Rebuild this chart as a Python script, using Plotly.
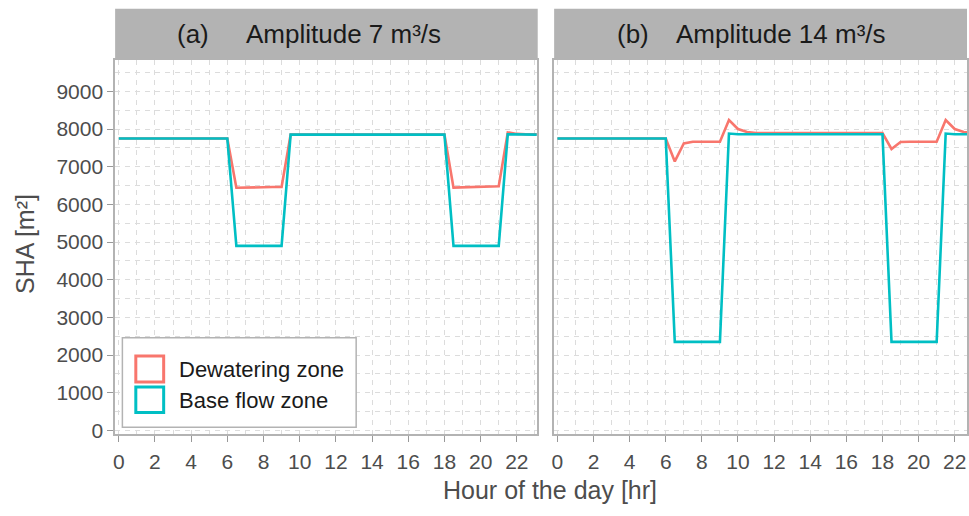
import plotly.graph_objects as go

hours = [0, 0.5, 1, 1.5, 2, 2.5, 3, 3.5, 4, 4.5, 5, 5.5, 6, 6.5, 7, 7.5, 8, 8.5, 9, 9.5,
         10, 10.5, 11, 11.5, 12, 12.5, 13, 13.5, 14, 14.5, 15, 15.5, 16, 16.5, 17, 17.5,
         18, 18.5, 19, 19.5, 20, 20.5, 21, 21.5, 22, 22.5, 23, 23.5]

# Panel (a): amplitude 7 m3/s
a_dewatering = [7750, 7750, 7750, 7750, 7750, 7750, 7750, 7750, 7750, 7750, 7750, 7750, 7750,
                6440, 6450, 6455, 6460, 6460, 6465,
                7855, 7855, 7855, 7855, 7855, 7855, 7855, 7855, 7855, 7855, 7855, 7855, 7855,
                7855, 7855, 7855, 7855, 7855,
                6445, 6450, 6455, 6460, 6470, 6480,
                7910, 7870, 7860, 7860, 7860]
a_base = [7750, 7750, 7750, 7750, 7750, 7750, 7750, 7750, 7750, 7750, 7750, 7750, 7750,
          4900, 4900, 4900, 4900, 4900, 4900,
          7850, 7850, 7850, 7850, 7850, 7850, 7850, 7850, 7850, 7850, 7850, 7850, 7850,
          7850, 7850, 7850, 7850, 7850,
          4900, 4900, 4900, 4900, 4900, 4900,
          7860, 7850, 7850, 7850, 7850]

# Panel (b): amplitude 14 m3/s
b_dewatering = [7750, 7750, 7750, 7750, 7750, 7750, 7750, 7750, 7750, 7750, 7750, 7750, 7750,
                7140, 7615, 7660, 7665, 7665, 7665,
                8240, 8000, 7920,
                7890, 7890, 7890, 7890, 7890, 7890, 7890, 7890, 7890, 7890, 7890, 7890, 7890,
                7890, 7890,
                7470, 7655, 7660, 7660, 7660, 7665,
                8240, 8000, 7920, 7890, 7890]
b_base = [7750, 7750, 7750, 7750, 7750, 7750, 7750, 7750, 7750, 7750, 7750, 7750, 7750,
          2350, 2350, 2350, 2350, 2350, 2350,
          7880, 7860, 7860, 7860, 7860, 7860, 7860, 7860, 7860, 7860, 7860, 7860, 7860,
          7860, 7860, 7860, 7860, 7860,
          2350, 2350, 2350, 2350, 2350, 2350,
          7880, 7860, 7860, 7860, 7860]

series_names = ["Dewatering zone", "Base flow zone"]
panel_labels = ["(a)", "(b)"]
panel_titles = ["Amplitude 7 m³/s", "Amplitude 14 m³/s"]
x_ticks = [0, 2, 4, 6, 8, 10, 12, 14, 16, 18, 20, 22]
y_ticks = [0, 1000, 2000, 3000, 4000, 5000, 6000, 7000, 8000, 9000]

RED = "#F8766D"
CYAN = "#00BFC4"
W, H = 969, 516
FONT = "Liberation Sans, Arial, sans-serif"

def px(x):
    return x / W

def py(y):
    return 1 - y / H

fig = go.Figure()
fig.add_trace(go.Scatter(x=hours, y=a_dewatering, mode="lines", name=series_names[0],
                         line=dict(color=RED, width=2.6), xaxis="x", yaxis="y", showlegend=False))
fig.add_trace(go.Scatter(x=hours, y=a_base, mode="lines", name=series_names[1],
                         line=dict(color=CYAN, width=2.6), xaxis="x", yaxis="y", showlegend=False))
fig.add_trace(go.Scatter(x=hours, y=b_dewatering, mode="lines", name=series_names[0],
                         line=dict(color=RED, width=2.6), xaxis="x2", yaxis="y2", showlegend=False))
fig.add_trace(go.Scatter(x=hours, y=b_base, mode="lines", name=series_names[1],
                         line=dict(color=CYAN, width=2.6), xaxis="x2", yaxis="y2", showlegend=False))

grid_col = "#dcdcdc"
border_col = "#b3b3b3"
DASH = "5px,5px"
tick_font = dict(family=FONT, size=21, color="#4d4d4d")

xcommon = dict(tickvals=x_ticks, showgrid=True, gridcolor=grid_col, griddash=DASH, gridwidth=1,
               minor=dict(dtick=1, tick0=0, showgrid=True, gridcolor=grid_col, griddash=DASH, gridwidth=1),
               showline=True, mirror=True, linecolor=border_col, linewidth=1.5,
               ticks="outside", ticklen=6, tickcolor="#999999", tickwidth=1.2,
               tickfont=tick_font, zeroline=False, ticklabelstandoff=2)
ycommon = dict(tickvals=y_ticks, range=[-90, 9830], showgrid=True, gridcolor=grid_col, griddash=DASH, gridwidth=1,
               minor=dict(dtick=500, tick0=0, showgrid=True, gridcolor=grid_col, griddash=DASH, gridwidth=1),
               showline=True, mirror=True, linecolor=border_col, linewidth=1.5,
               tickfont=tick_font, zeroline=False, domain=[py(440.7), py(61)])

fig.update_layout(
    width=W, height=H, autosize=False,
    margin=dict(l=0, r=0, t=0, b=0),
    paper_bgcolor="white", plot_bgcolor="white",
    font=dict(family=FONT, color="#1a1a1a"),
    showlegend=False,
    xaxis=dict(xcommon, domain=[px(112.7), px(536.5)], range=[-0.2, 23.1], anchor="y"),
    yaxis=dict(ycommon, anchor="x", ticks="outside", ticklen=6, tickcolor="#999999", tickwidth=1.2),
    xaxis2=dict(xcommon, domain=[px(554), 1.0], range=[-0.18, 22.68], anchor="y2"),
    yaxis2=dict(ycommon, anchor="x2", showticklabels=False, ticks=""),
)

shapes = []
annotations = []
# facet strips
strips = [(112.7, 537.5), (554, 969)]
label_cx = [191, 633]
title_cx = [342, 782]
for i, (l, r) in enumerate(strips):
    shapes.append(dict(type="rect", xref="paper", yref="paper", x0=px(l), x1=px(r), y0=py(60), y1=py(9),
                       fillcolor="#b3b3b3", line=dict(width=0), layer="above"))
    annotations.append(dict(xref="paper", yref="paper", x=px(label_cx[i]), y=py(35), text=panel_labels[i],
                            showarrow=False, xanchor="center", yanchor="middle",
                            font=dict(family=FONT, size=26, color="#1a1a1a")))
    annotations.append(dict(xref="paper", yref="paper", x=px(title_cx[i]), y=py(35), text=panel_titles[i],
                            showarrow=False, xanchor="center", yanchor="middle",
                            font=dict(family=FONT, size=26, color="#1a1a1a")))

# axis titles
annotations.append(dict(xref="paper", yref="paper", x=px(550), y=py(498), text="Hour of the day [hr]",
                        showarrow=False, xanchor="center", yanchor="middle",
                        font=dict(family=FONT, size=25, color="#4d4d4d")))
annotations.append(dict(xref="paper", yref="paper", x=px(22), y=py(248), text="SHA [m²]", textangle=-90,
                        showarrow=False, xanchor="center", yanchor="middle",
                        font=dict(family=FONT, size=25, color="#4d4d4d")))

# legend box
shapes.append(dict(type="rect", xref="paper", yref="paper", x0=px(120), x1=px(355), y0=py(434), y1=py(343),
                   fillcolor="white", line=dict(color=border_col, width=1.5), layer="above"))
key_cols = [RED, CYAN]
key_y = [(360, 389.5), (391.5, 420.5)]
text_y = [375, 407]
for i in range(2):
    shapes.append(dict(type="rect", xref="paper", yref="paper", x0=px(133.5), x1=px(161.5),
                       y0=py(key_y[i][1] - 1.5), y1=py(key_y[i][0] + 1.5),
                       fillcolor="white", line=dict(color=key_cols[i], width=3), layer="above"))
    annotations.append(dict(xref="paper", yref="paper", x=px(175), y=py(text_y[i]), text=series_names[i],
                            showarrow=False, xanchor="left", yanchor="middle",
                            font=dict(family=FONT, size=22, color="#1a1a1a")))

fig.update_layout(shapes=shapes, annotations=annotations)
fig.write_html("out.html", config={"displayModeBar": False},
               post_script="document.body.style.margin='0';document.body.style.overflow='hidden';")
